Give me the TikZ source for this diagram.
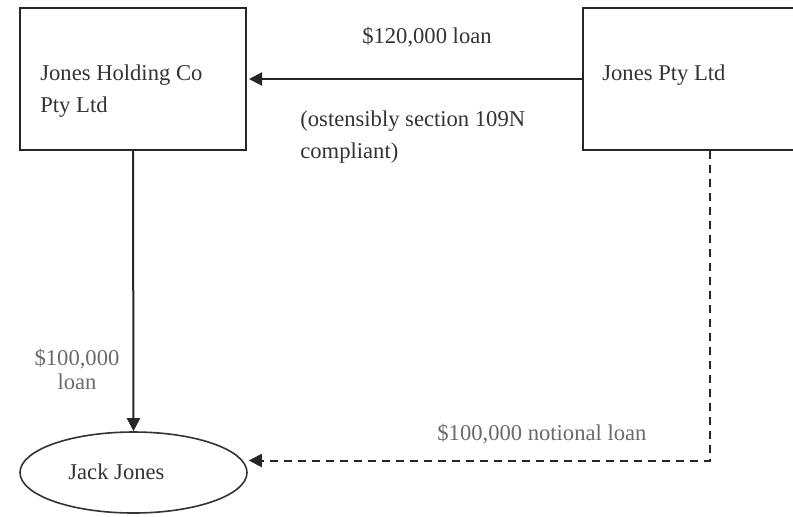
\documentclass[tikz,border=0pt]{standalone}
\usepackage{fontspec}
\setmainfont{Liberation Serif}
\usetikzlibrary{arrows.meta,shapes.geometric}
\definecolor{inkdark}{HTML}{333333}
\definecolor{inklight}{HTML}{6A6A6A}
\tikzset{
  entity/.style={draw=black!85, line width=1pt, rectangle, inner sep=0pt},
  person/.style={draw=black!80, line width=0.8pt, ellipse, inner sep=0pt,
    minimum width=113.5pt, minimum height=40.5pt},
  txt/.style={inner sep=0pt, text=inkdark, font=\fontsize{11.3}{16}\selectfont},
  lbl/.style={inner sep=0pt, text=inklight, font=\fontsize{11.3}{12}\selectfont},
  flow/.style={line width=1pt, draw=black!85, -{Triangle[length=6.5pt,width=6.5pt]}},
  notional/.style={flow, dash pattern=on 4pt off 3pt}
}
\begin{document}
\begin{tikzpicture}[x=0.5pt, y=-0.5pt]
  \useasboundingbox (0,0) rectangle (793,516);

  % entities
  \node[entity, minimum width=113pt, minimum height=71pt] (holding) at (133,79) {};
  \node[entity, minimum width=110pt, minimum height=71pt] (ptyltd) at (693,79) {};
  \node[person] (jack) at (133.5,472.5) {};

  % entity names (multi-line nodes sit on the baseline of their last line)
  \node[txt, anchor=base west, align=left] (holdingname) at (40,112) {Jones Holding Co\\Pty Ltd};
  \node[txt, anchor=base west] (ptyname) at (602,80) {Jones Pty Ltd};
  \node[txt, anchor=base west] (jackname) at (68,479) {Jack Jones};

  % loans
  \draw[flow, shorten >=1pt] (ptyltd.west) -- (holding.east);
  \draw[flow] (holding.south) -- (jack.north);
  \draw[notional] ([xshift=8.5pt]ptyltd.south) |- ([shift={(0.5pt,6pt)}]jack.east);

  % loan labels
  \node[txt, anchor=base] (biglabel) at (427,43) {\$120,000 loan};
  \node[txt, anchor=base west, align=left] (note) at (300,158) {(ostensibly section 109N\\compliant)};
  \node[lbl, anchor=base, align=center] (smalllabel) at (77,389) {\$100,000\\loan};
  \node[lbl, anchor=base west] (notionallabel) at (437,440) {\$100,000 notional loan};
\end{tikzpicture}
\end{document}
